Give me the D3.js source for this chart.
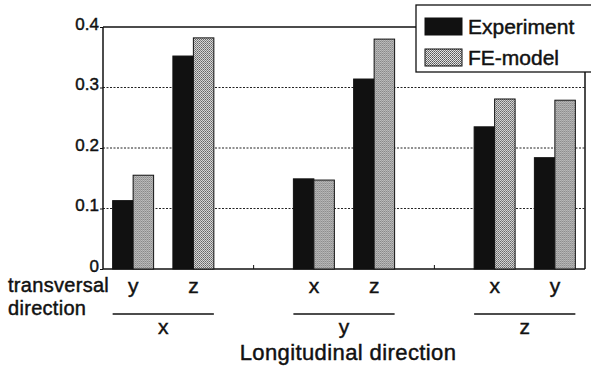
<!DOCTYPE html>
<html>
<head>
<meta charset="utf-8">
<script src="https://cdn.jsdelivr.net/npm/d3@7"></script>
<style>
  body { margin: 0; background: #fff; }
  text { font-family: "Liberation Sans", Arial, Helvetica, sans-serif; fill: #111; stroke: #111; stroke-width: 0.45px; }
</style>
</head>
<body>
<div id="chart"></div>
<script>
// Chart data
var longitudinal = ["x", "y", "z"];
var transversal = [["y", "z"], ["x", "z"], ["x", "y"]];
var seriesNames = ["Experiment", "FE-model"];
var experiment = [0.113, 0.352, 0.149, 0.314, 0.235, 0.184];
var feModel = [0.155, 0.382, 0.147, 0.380, 0.281, 0.279];
var yTicks = [0, 0.1, 0.2, 0.3, 0.4];

var svgWidth = 591;
var svgHeight = 370;
var margin = { top: 27, right: 6, bottom: 101, left: 103 };
var width = svgWidth - margin.left - margin.right;
var height = svgHeight - margin.top - margin.bottom;

var svg = d3.select("#chart")
  .append("svg")
  .attr("width", svgWidth)
  .attr("height", svgHeight);

// stipple for the FE-model bars
var defs = svg.append("defs");
var pat = defs.append("pattern")
  .attr("id", "stipple")
  .attr("width", 2)
  .attr("height", 2)
  .attr("patternUnits", "userSpaceOnUse");
pat.append("rect").attr("width", 2).attr("height", 2).attr("fill", "#e4e4e4");
pat.append("rect").attr("width", 1).attr("height", 1).attr("fill", "#555");
pat.append("rect").attr("x", 1).attr("y", 1).attr("width", 1).attr("height", 1).attr("fill", "#777");

// build slots: each longitudinal group gets its transversal pairs, with an empty slot between groups
var rows = [];
var slots = [];
var k = 0;
longitudinal.forEach(function(l, gi) {
  transversal[gi].forEach(function(t) {
    var key = l + "-" + t;
    slots.push(key);
    rows.push({ key: key, group: l, trans: t, values: [experiment[k], feModel[k]] });
    k++;
  });
  if (gi < longitudinal.length - 1) slots.push("gap" + gi);
});

var chartGroup = svg.append("g")
  .attr("transform", `translate(${margin.left}, ${margin.top})`);

var xScale = d3.scaleBand()
  .domain(slots)
  .range([0, width])
  .paddingInner(0.32)
  .paddingOuter(0.16);

var xInner = d3.scaleBand()
  .domain(seriesNames)
  .range([0, xScale.bandwidth()]);

var yScale = d3.scaleLinear()
  .domain([0, 0.4])
  .range([height, 0]);

// dotted grid lines
chartGroup.selectAll(".grid")
  .data(yTicks.filter(d => d > 0 && d < 0.4))
  .enter()
  .append("line")
  .attr("x1", 0)
  .attr("x2", width)
  .attr("y1", d => yScale(d))
  .attr("y2", d => yScale(d))
  .attr("stroke", "#222")
  .attr("stroke-width", 1)
  .attr("stroke-dasharray", "2,1.5");

// left axis with labels
var leftAxis = d3.axisLeft(yScale)
  .tickValues(yTicks)
  .tickSize(3)
  .tickPadding(1)
  .tickFormat(d => d === 0 ? "0" : d3.format(".1f")(d));

var yAxisG = chartGroup.append("g").call(leftAxis);
yAxisG.select(".domain").remove();
yAxisG.selectAll("line").attr("stroke", "#111");
yAxisG.selectAll("text")
  .attr("dy", "0.12em")
  .style("font-size", "17px")
  .attr("fill", "#111");

// frame
chartGroup.append("line").attr("x1", 0).attr("x2", 0).attr("y1", 0).attr("y2", height).attr("stroke", "#111").attr("stroke-width", 1.5);
chartGroup.append("line").attr("x1", 0).attr("x2", width).attr("y1", height).attr("y2", height).attr("stroke", "#111").attr("stroke-width", 1.5);
chartGroup.append("line").attr("x1", 0).attr("x2", width).attr("y1", 0).attr("y2", 0).attr("stroke", "#111").attr("stroke-width", 1.5);
chartGroup.append("line").attr("x1", width).attr("x2", width).attr("y1", 0).attr("y2", height).attr("stroke", "#111").attr("stroke-width", 1.5);

// small ticks at the empty slots on the bottom axis
chartGroup.selectAll(".gaptick")
  .data(slots.filter(s => s.indexOf("gap") === 0))
  .enter()
  .append("line")
  .attr("x1", d => xScale(d) + xScale.bandwidth() / 2)
  .attr("x2", d => xScale(d) + xScale.bandwidth() / 2)
  .attr("y1", height)
  .attr("y2", height - 4)
  .attr("stroke", "#111");

// bars
var barGroups = chartGroup.selectAll(".pair")
  .data(rows)
  .enter()
  .append("g")
  .attr("transform", d => `translate(${xScale(d.key)}, 0)`);

barGroups.selectAll("rect")
  .data(d => d.values.map((v, i) => ({ series: seriesNames[i], value: v })))
  .enter()
  .append("rect")
  .attr("x", d => xInner(d.series))
  .attr("y", d => yScale(d.value))
  .attr("width", xInner.bandwidth())
  .attr("height", d => height - yScale(d.value))
  .attr("fill", d => d.series === "Experiment" ? "#111" : "url(#stipple)")
  .attr("stroke", "#111")
  .attr("stroke-width", 1);

// transversal labels under each pair
chartGroup.selectAll(".tlabel")
  .data(rows)
  .enter()
  .append("text")
  .attr("x", d => xScale(d.key) + xScale.bandwidth() / 2)
  .attr("y", height + 24)
  .attr("text-anchor", "middle")
  .style("font-size", "21px")
  .text(d => d.trans);

// group underline and longitudinal label
longitudinal.forEach(function(l, gi) {
  var keys = rows.filter(r => r.group === l).map(r => r.key);
  var x0 = xScale(keys[0]);
  var x1 = xScale(keys[keys.length - 1]) + xScale.bandwidth();
  chartGroup.append("line")
    .attr("x1", x0).attr("x2", x1)
    .attr("y1", height + 45).attr("y2", height + 45)
    .attr("stroke", "#111").attr("stroke-width", 1.3);
  chartGroup.append("text")
    .attr("x", (x0 + x1) / 2)
    .attr("y", height + 65)
    .attr("text-anchor", "middle")
    .style("font-size", "21px")
    .text(l);
});

// axis titles
svg.append("text")
  .attr("x", 8)
  .attr("y", 292)
  .style("font-size", "20px")
  .style("letter-spacing", "0.3px")
  .text("transversal");
svg.append("text")
  .attr("x", 8)
  .attr("y", 315)
  .style("font-size", "20px")
  .style("letter-spacing", "0.3px")
  .text("direction");

svg.append("text")
  .attr("x", margin.left + width / 2 + 4)
  .attr("y", 360)
  .attr("text-anchor", "middle")
  .style("font-size", "22px")
  .style("letter-spacing", "0.4px")
  .text("Longitudinal direction");

// legend
var legend = svg.append("g").attr("transform", "translate(416, 5)");
legend.append("rect")
  .attr("width", 190)
  .attr("height", 67)
  .attr("fill", "#fff")
  .attr("stroke", "#111")
  .attr("stroke-width", 1.3);

seriesNames.forEach(function(name, i) {
  legend.append("rect")
    .attr("x", 9)
    .attr("y", 13 + i * 31)
    .attr("width", 37)
    .attr("height", 17)
    .attr("fill", i === 0 ? "#111" : "url(#stipple)")
    .attr("stroke", "#111")
    .attr("stroke-width", 1);
  legend.append("text")
    .attr("x", 52)
    .attr("y", 29 + i * 31)
    .style("font-size", "21px")
    .text(name);
});
</script>
</body>
</html>
